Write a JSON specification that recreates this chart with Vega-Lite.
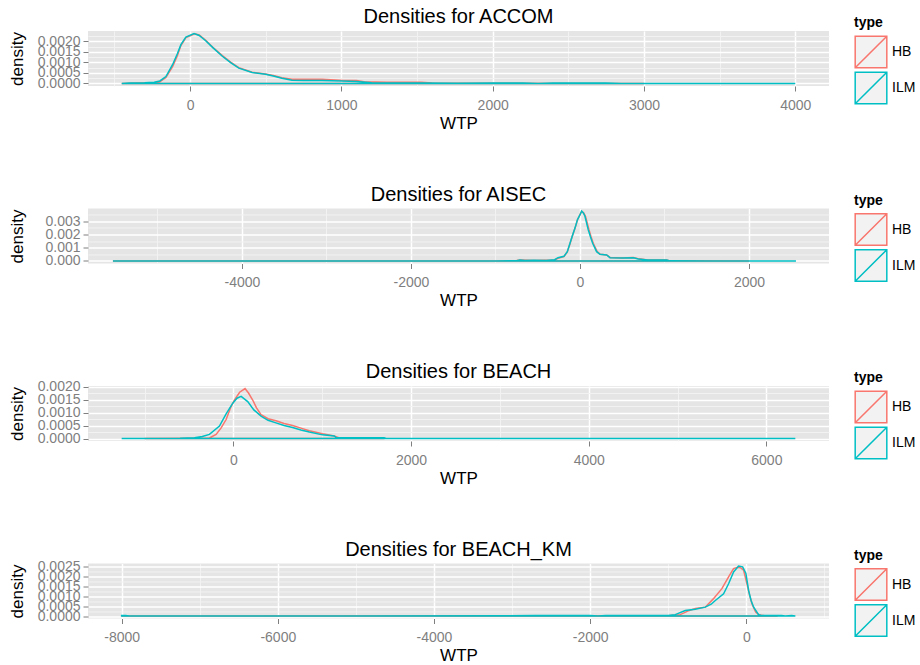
{
  "$schema": "https://vega.github.io/schema/vega-lite/v6.json",
  "background": "white",
  "padding": {"left": 8, "top": 7, "right": 0, "bottom": 0},
  "config": {
    "font": "Liberation Sans",
    "view": {"fill": "#E5E5E5", "stroke": null},
    "title": {"fontSize": 20, "fontWeight": "normal", "color": "black", "anchor": "middle", "offset": -11, "baseline": "alphabetic", "font": "Liberation Sans"},
    "axis": {"domain": false, "tickColor": "#7F7F7F", "tickSize": 5, "tickWidth": 1, "labelColor": "#7F7F7F", "labelFontSize": 14, "labelFont": "Liberation Sans", "titleFont": "Liberation Sans", "titleFontSize": 17, "titleFontWeight": "normal", "titleColor": "black", "labelOverlap": false, "labelFlush": false, "labelBound": false},
    "axisX": {"labelPadding": 7, "titlePadding": 3},
    "axisY": {"labelPadding": 3, "titleX": -66, "titleY": 27.5, "titleBaseline": "alphabetic", "titleAngle": -90, "titleAlign": "center"},
    "legend": {"titleFontSize": 14, "titleFontWeight": "bold", "titleColor": "black", "titleFont": "Liberation Sans", "titlePadding": 5, "labelFontSize": 14, "labelColor": "black", "labelFont": "Liberation Sans", "labelOffset": 4, "symbolType": "M-1,-1L1,-1L1,1L-1,1Z M-1,1L1,-1", "symbolSize": 1000, "symbolStrokeWidth": 1.5, "symbolFillColor": "#F2F2F2", "rowPadding": -3.5}
  },
  "datasets": {
    "dens": [
      {"panel":"ACCOM","type":"HB","WTP":-452,"density":0},
      {"panel":"ACCOM","type":"HB","WTP":-350,"density":0.00002},
      {"panel":"ACCOM","type":"HB","WTP":-237,"density":0.00003},
      {"panel":"ACCOM","type":"HB","WTP":-200,"density":0.00008},
      {"panel":"ACCOM","type":"HB","WTP":-160,"density":0.00028},
      {"panel":"ACCOM","type":"HB","WTP":-116,"density":0.0008},
      {"panel":"ACCOM","type":"HB","WTP":-85,"density":0.0013},
      {"panel":"ACCOM","type":"HB","WTP":-61,"density":0.0018},
      {"panel":"ACCOM","type":"HB","WTP":-28,"density":0.00218},
      {"panel":"ACCOM","type":"HB","WTP":30,"density":0.00236},
      {"panel":"ACCOM","type":"HB","WTP":60,"density":0.0023},
      {"panel":"ACCOM","type":"HB","WTP":103,"density":0.00205},
      {"panel":"ACCOM","type":"HB","WTP":150,"density":0.00172},
      {"panel":"ACCOM","type":"HB","WTP":213,"density":0.00132},
      {"panel":"ACCOM","type":"HB","WTP":270,"density":0.001},
      {"panel":"ACCOM","type":"HB","WTP":322,"density":0.00075},
      {"panel":"ACCOM","type":"HB","WTP":410,"density":0.00053},
      {"panel":"ACCOM","type":"HB","WTP":498,"density":0.00045},
      {"panel":"ACCOM","type":"HB","WTP":550,"density":0.00038},
      {"panel":"ACCOM","type":"HB","WTP":607,"density":0.00027},
      {"panel":"ACCOM","type":"HB","WTP":673,"density":0.0002},
      {"panel":"ACCOM","type":"HB","WTP":870,"density":0.0002},
      {"panel":"ACCOM","type":"HB","WTP":960,"density":0.00016},
      {"panel":"ACCOM","type":"HB","WTP":1013,"density":0.00014},
      {"panel":"ACCOM","type":"HB","WTP":1099,"density":0.00014},
      {"panel":"ACCOM","type":"HB","WTP":1150,"density":0.00008},
      {"panel":"ACCOM","type":"HB","WTP":1300,"density":0.00006},
      {"panel":"ACCOM","type":"HB","WTP":1526,"density":0.00006},
      {"panel":"ACCOM","type":"HB","WTP":1600,"density":0.00002},
      {"panel":"ACCOM","type":"HB","WTP":2000,"density":0.00001},
      {"panel":"ACCOM","type":"HB","WTP":2500,"density":0.000005},
      {"panel":"ACCOM","type":"HB","WTP":3000,"density":0},
      {"panel":"ACCOM","type":"ILM","WTP":-452,"density":0},
      {"panel":"ACCOM","type":"ILM","WTP":-400,"density":0.00002},
      {"panel":"ACCOM","type":"ILM","WTP":-300,"density":0.00003},
      {"panel":"ACCOM","type":"ILM","WTP":-237,"density":0.00006},
      {"panel":"ACCOM","type":"ILM","WTP":-200,"density":0.00012},
      {"panel":"ACCOM","type":"ILM","WTP":-160,"density":0.00033},
      {"panel":"ACCOM","type":"ILM","WTP":-116,"density":0.00089},
      {"panel":"ACCOM","type":"ILM","WTP":-85,"density":0.0014},
      {"panel":"ACCOM","type":"ILM","WTP":-61,"density":0.00184},
      {"panel":"ACCOM","type":"ILM","WTP":-28,"density":0.0022},
      {"panel":"ACCOM","type":"ILM","WTP":26,"density":0.00237},
      {"panel":"ACCOM","type":"ILM","WTP":60,"density":0.00228},
      {"panel":"ACCOM","type":"ILM","WTP":103,"density":0.00203},
      {"panel":"ACCOM","type":"ILM","WTP":150,"density":0.0017},
      {"panel":"ACCOM","type":"ILM","WTP":213,"density":0.00129},
      {"panel":"ACCOM","type":"ILM","WTP":270,"density":0.00098},
      {"panel":"ACCOM","type":"ILM","WTP":322,"density":0.00073},
      {"panel":"ACCOM","type":"ILM","WTP":410,"density":0.00052},
      {"panel":"ACCOM","type":"ILM","WTP":498,"density":0.00044},
      {"panel":"ACCOM","type":"ILM","WTP":550,"density":0.00036},
      {"panel":"ACCOM","type":"ILM","WTP":607,"density":0.00025},
      {"panel":"ACCOM","type":"ILM","WTP":673,"density":0.00015},
      {"panel":"ACCOM","type":"ILM","WTP":750,"density":0.00014},
      {"panel":"ACCOM","type":"ILM","WTP":870,"density":0.00014},
      {"panel":"ACCOM","type":"ILM","WTP":1002,"density":0.00012},
      {"panel":"ACCOM","type":"ILM","WTP":1100,"density":0.0001},
      {"panel":"ACCOM","type":"ILM","WTP":1200,"density":0.00004},
      {"panel":"ACCOM","type":"ILM","WTP":1362,"density":0.00002},
      {"panel":"ACCOM","type":"ILM","WTP":1530,"density":0.00002},
      {"panel":"ACCOM","type":"ILM","WTP":1770,"density":0.00001},
      {"panel":"ACCOM","type":"ILM","WTP":2000,"density":0.00002},
      {"panel":"ACCOM","type":"ILM","WTP":2200,"density":0.00002},
      {"panel":"ACCOM","type":"ILM","WTP":2300,"density":0.000005},
      {"panel":"ACCOM","type":"ILM","WTP":2400,"density":0.00002},
      {"panel":"ACCOM","type":"ILM","WTP":2750,"density":0.00002},
      {"panel":"ACCOM","type":"ILM","WTP":2850,"density":0.000005},
      {"panel":"ACCOM","type":"ILM","WTP":3200,"density":0.000003},
      {"panel":"ACCOM","type":"ILM","WTP":4000,"density":0},

      {"panel":"AISEC","type":"HB","WTP":-5527,"density":0},
      {"panel":"AISEC","type":"HB","WTP":-1000,"density":0.000003},
      {"panel":"AISEC","type":"HB","WTP":-750,"density":0.00003},
      {"panel":"AISEC","type":"HB","WTP":-700,"density":0.00007},
      {"panel":"AISEC","type":"HB","WTP":-550,"density":0.00004},
      {"panel":"AISEC","type":"HB","WTP":-300,"density":0.00008},
      {"panel":"AISEC","type":"HB","WTP":-260,"density":0.0002},
      {"panel":"AISEC","type":"HB","WTP":-190,"density":0.00033},
      {"panel":"AISEC","type":"HB","WTP":-150,"density":0.00068},
      {"panel":"AISEC","type":"HB","WTP":-118,"density":0.0013},
      {"panel":"AISEC","type":"HB","WTP":-90,"density":0.00188},
      {"panel":"AISEC","type":"HB","WTP":-59,"density":0.00245},
      {"panel":"AISEC","type":"HB","WTP":-30,"density":0.00308},
      {"panel":"AISEC","type":"HB","WTP":-8,"density":0.00338},
      {"panel":"AISEC","type":"HB","WTP":20,"density":0.00373},
      {"panel":"AISEC","type":"HB","WTP":45,"density":0.0036},
      {"panel":"AISEC","type":"HB","WTP":65,"density":0.00335},
      {"panel":"AISEC","type":"HB","WTP":105,"density":0.00238},
      {"panel":"AISEC","type":"HB","WTP":132,"density":0.0018},
      {"panel":"AISEC","type":"HB","WTP":157,"density":0.00133},
      {"panel":"AISEC","type":"HB","WTP":204,"density":0.0007},
      {"panel":"AISEC","type":"HB","WTP":240,"density":0.0005},
      {"panel":"AISEC","type":"HB","WTP":316,"density":0.00045},
      {"panel":"AISEC","type":"HB","WTP":355,"density":0.00027},
      {"panel":"AISEC","type":"HB","WTP":500,"density":0.00022},
      {"panel":"AISEC","type":"HB","WTP":631,"density":0.00026},
      {"panel":"AISEC","type":"HB","WTP":700,"density":0.00016},
      {"panel":"AISEC","type":"HB","WTP":800,"density":0.00008},
      {"panel":"AISEC","type":"HB","WTP":1026,"density":0.00008},
      {"panel":"AISEC","type":"HB","WTP":1065,"density":0.00001},
      {"panel":"AISEC","type":"HB","WTP":2000,"density":0},
      {"panel":"AISEC","type":"ILM","WTP":-5527,"density":0},
      {"panel":"AISEC","type":"ILM","WTP":-1000,"density":0.000003},
      {"panel":"AISEC","type":"ILM","WTP":-750,"density":0.00002},
      {"panel":"AISEC","type":"ILM","WTP":-710,"density":0.00008},
      {"panel":"AISEC","type":"ILM","WTP":-650,"density":0.00003},
      {"panel":"AISEC","type":"ILM","WTP":-550,"density":0.00005},
      {"panel":"AISEC","type":"ILM","WTP":-400,"density":0.00004},
      {"panel":"AISEC","type":"ILM","WTP":-300,"density":0.0001},
      {"panel":"AISEC","type":"ILM","WTP":-260,"density":0.00025},
      {"panel":"AISEC","type":"ILM","WTP":-190,"density":0.00035},
      {"panel":"AISEC","type":"ILM","WTP":-150,"density":0.0007},
      {"panel":"AISEC","type":"ILM","WTP":-118,"density":0.00133},
      {"panel":"AISEC","type":"ILM","WTP":-90,"density":0.0019},
      {"panel":"AISEC","type":"ILM","WTP":-59,"density":0.00247},
      {"panel":"AISEC","type":"ILM","WTP":-30,"density":0.0031},
      {"panel":"AISEC","type":"ILM","WTP":-8,"density":0.00336},
      {"panel":"AISEC","type":"ILM","WTP":20,"density":0.00375},
      {"panel":"AISEC","type":"ILM","WTP":40,"density":0.0036},
      {"panel":"AISEC","type":"ILM","WTP":59,"density":0.00336},
      {"panel":"AISEC","type":"ILM","WTP":98,"density":0.00235},
      {"panel":"AISEC","type":"ILM","WTP":125,"density":0.0018},
      {"panel":"AISEC","type":"ILM","WTP":150,"density":0.00133},
      {"panel":"AISEC","type":"ILM","WTP":197,"density":0.0007},
      {"panel":"AISEC","type":"ILM","WTP":237,"density":0.0005},
      {"panel":"AISEC","type":"ILM","WTP":316,"density":0.00045},
      {"panel":"AISEC","type":"ILM","WTP":355,"density":0.00025},
      {"panel":"AISEC","type":"ILM","WTP":500,"density":0.00022},
      {"panel":"AISEC","type":"ILM","WTP":631,"density":0.00025},
      {"panel":"AISEC","type":"ILM","WTP":690,"density":0.00015},
      {"panel":"AISEC","type":"ILM","WTP":800,"density":0.00008},
      {"panel":"AISEC","type":"ILM","WTP":1026,"density":0.00008},
      {"panel":"AISEC","type":"ILM","WTP":1065,"density":0.00001},
      {"panel":"AISEC","type":"ILM","WTP":1500,"density":0.000002},
      {"panel":"AISEC","type":"ILM","WTP":2556,"density":0},

      {"panel":"BEACH","type":"HB","WTP":-1000,"density":0},
      {"panel":"BEACH","type":"HB","WTP":-400,"density":0.00001},
      {"panel":"BEACH","type":"HB","WTP":-270,"density":0.00002},
      {"panel":"BEACH","type":"HB","WTP":-195,"density":0.00016},
      {"panel":"BEACH","type":"HB","WTP":-140,"density":0.0004},
      {"panel":"BEACH","type":"HB","WTP":-82,"density":0.00073},
      {"panel":"BEACH","type":"HB","WTP":-30,"density":0.0012},
      {"panel":"BEACH","type":"HB","WTP":11,"density":0.00148},
      {"panel":"BEACH","type":"HB","WTP":70,"density":0.00178},
      {"panel":"BEACH","type":"HB","WTP":131,"density":0.00192},
      {"panel":"BEACH","type":"HB","WTP":170,"density":0.00175},
      {"panel":"BEACH","type":"HB","WTP":217,"density":0.00148},
      {"panel":"BEACH","type":"HB","WTP":260,"density":0.00118},
      {"panel":"BEACH","type":"HB","WTP":311,"density":0.00092},
      {"panel":"BEACH","type":"HB","WTP":390,"density":0.00076},
      {"panel":"BEACH","type":"HB","WTP":479,"density":0.00068},
      {"panel":"BEACH","type":"HB","WTP":570,"density":0.00058},
      {"panel":"BEACH","type":"HB","WTP":666,"density":0.0005},
      {"panel":"BEACH","type":"HB","WTP":760,"density":0.0004},
      {"panel":"BEACH","type":"HB","WTP":854,"density":0.0003},
      {"panel":"BEACH","type":"HB","WTP":1003,"density":0.00018},
      {"panel":"BEACH","type":"HB","WTP":1135,"density":0.0001},
      {"panel":"BEACH","type":"HB","WTP":1200,"density":0.00001},
      {"panel":"BEACH","type":"HB","WTP":1700,"density":0},
      {"panel":"BEACH","type":"ILM","WTP":-1258,"density":0},
      {"panel":"BEACH","type":"ILM","WTP":-600,"density":0.00001},
      {"panel":"BEACH","type":"ILM","WTP":-438,"density":0.00003},
      {"panel":"BEACH","type":"ILM","WTP":-350,"density":0.00008},
      {"panel":"BEACH","type":"ILM","WTP":-270,"density":0.00016},
      {"panel":"BEACH","type":"ILM","WTP":-157,"density":0.00048},
      {"panel":"BEACH","type":"ILM","WTP":-82,"density":0.00095},
      {"panel":"BEACH","type":"ILM","WTP":-7,"density":0.00136},
      {"panel":"BEACH","type":"ILM","WTP":40,"density":0.00155},
      {"panel":"BEACH","type":"ILM","WTP":87,"density":0.00162},
      {"panel":"BEACH","type":"ILM","WTP":161,"density":0.00142},
      {"panel":"BEACH","type":"ILM","WTP":230,"density":0.0011},
      {"panel":"BEACH","type":"ILM","WTP":311,"density":0.00086},
      {"panel":"BEACH","type":"ILM","WTP":390,"density":0.0007},
      {"panel":"BEACH","type":"ILM","WTP":479,"density":0.0006},
      {"panel":"BEACH","type":"ILM","WTP":570,"density":0.0005},
      {"panel":"BEACH","type":"ILM","WTP":666,"density":0.00042},
      {"panel":"BEACH","type":"ILM","WTP":760,"density":0.00033},
      {"panel":"BEACH","type":"ILM","WTP":854,"density":0.00025},
      {"panel":"BEACH","type":"ILM","WTP":1003,"density":0.00014},
      {"panel":"BEACH","type":"ILM","WTP":1135,"density":0.0001},
      {"panel":"BEACH","type":"ILM","WTP":1160,"density":0.00003},
      {"panel":"BEACH","type":"ILM","WTP":1697,"density":0.00003},
      {"panel":"BEACH","type":"ILM","WTP":1720,"density":0.000005},
      {"panel":"BEACH","type":"ILM","WTP":3000,"density":0.000002},
      {"panel":"BEACH","type":"ILM","WTP":6326,"density":0},

      {"panel":"BEACH_KM","type":"HB","WTP":-8000,"density":0},
      {"panel":"BEACH_KM","type":"HB","WTP":-2700,"density":0.00001},
      {"panel":"BEACH_KM","type":"HB","WTP":-1000,"density":0.00001},
      {"panel":"BEACH_KM","type":"HB","WTP":-846,"density":0.00007},
      {"panel":"BEACH_KM","type":"HB","WTP":-750,"density":0.00025},
      {"panel":"BEACH_KM","type":"HB","WTP":-654,"density":0.00038},
      {"panel":"BEACH_KM","type":"HB","WTP":-526,"density":0.00045},
      {"panel":"BEACH_KM","type":"HB","WTP":-423,"density":0.00087},
      {"panel":"BEACH_KM","type":"HB","WTP":-313,"density":0.00139},
      {"panel":"BEACH_KM","type":"HB","WTP":-227,"density":0.00199},
      {"panel":"BEACH_KM","type":"HB","WTP":-163,"density":0.00241},
      {"panel":"BEACH_KM","type":"HB","WTP":-110,"density":0.00248},
      {"panel":"BEACH_KM","type":"HB","WTP":-70,"density":0.00245},
      {"panel":"BEACH_KM","type":"HB","WTP":-35,"density":0.00233},
      {"panel":"BEACH_KM","type":"HB","WTP":8,"density":0.00164},
      {"panel":"BEACH_KM","type":"HB","WTP":40,"density":0.0011},
      {"panel":"BEACH_KM","type":"HB","WTP":72,"density":0.00062},
      {"panel":"BEACH_KM","type":"HB","WTP":120,"density":0.0002},
      {"panel":"BEACH_KM","type":"HB","WTP":157,"density":0.00007},
      {"panel":"BEACH_KM","type":"HB","WTP":250,"density":0},
      {"panel":"BEACH_KM","type":"HB","WTP":400,"density":0},
      {"panel":"BEACH_KM","type":"ILM","WTP":-8000,"density":0.00002},
      {"panel":"BEACH_KM","type":"ILM","WTP":-7950,"density":0.00002},
      {"panel":"BEACH_KM","type":"ILM","WTP":-7900,"density":0.000003},
      {"panel":"BEACH_KM","type":"ILM","WTP":-5000,"density":0},
      {"panel":"BEACH_KM","type":"ILM","WTP":-2700,"density":0.00002},
      {"panel":"BEACH_KM","type":"ILM","WTP":-2000,"density":0.00002},
      {"panel":"BEACH_KM","type":"ILM","WTP":-1900,"density":0.000005},
      {"panel":"BEACH_KM","type":"ILM","WTP":-1800,"density":0.00002},
      {"panel":"BEACH_KM","type":"ILM","WTP":-1000,"density":0.00002},
      {"panel":"BEACH_KM","type":"ILM","WTP":-910,"density":0.00007},
      {"panel":"BEACH_KM","type":"ILM","WTP":-782,"density":0.00028},
      {"panel":"BEACH_KM","type":"ILM","WTP":-654,"density":0.00034},
      {"panel":"BEACH_KM","type":"ILM","WTP":-526,"density":0.00045},
      {"panel":"BEACH_KM","type":"ILM","WTP":-450,"density":0.0006},
      {"panel":"BEACH_KM","type":"ILM","WTP":-397,"density":0.00079},
      {"panel":"BEACH_KM","type":"ILM","WTP":-291,"density":0.00113},
      {"panel":"BEACH_KM","type":"ILM","WTP":-227,"density":0.00164},
      {"panel":"BEACH_KM","type":"ILM","WTP":-163,"density":0.00224},
      {"panel":"BEACH_KM","type":"ILM","WTP":-99,"density":0.00254},
      {"panel":"BEACH_KM","type":"ILM","WTP":-47,"density":0.0025},
      {"panel":"BEACH_KM","type":"ILM","WTP":-5,"density":0.00216},
      {"panel":"BEACH_KM","type":"ILM","WTP":29,"density":0.0013},
      {"panel":"BEACH_KM","type":"ILM","WTP":60,"density":0.0008},
      {"panel":"BEACH_KM","type":"ILM","WTP":94,"density":0.00045},
      {"panel":"BEACH_KM","type":"ILM","WTP":157,"density":0.00007},
      {"panel":"BEACH_KM","type":"ILM","WTP":200,"density":0.00002},
      {"panel":"BEACH_KM","type":"ILM","WTP":450,"density":0.00002},
      {"panel":"BEACH_KM","type":"ILM","WTP":500,"density":0.000005},
      {"panel":"BEACH_KM","type":"ILM","WTP":580,"density":0.00003},
      {"panel":"BEACH_KM","type":"ILM","WTP":628,"density":0}
    ]
  },
  "spacing": 53.5,
  "resolve": {"scale": {"x": "independent", "y": "independent", "color": "independent"}, "legend": {"color": "independent"}, "axis": {"x": "independent", "y": "independent"}},
  "vconcat": [
    {
      "width": 741, "height": 55,
      "title": "Densities for ACCOM",
      "data": {"name": "dens"},
      "transform": [{"filter": "datum.panel === 'ACCOM'"}],
      "mark": {"type": "area", "filled": false, "strokeWidth": 1.5},
      "encoding": {
        "x": {"field": "WTP", "type": "quantitative", "scale": {"domain": [-675, 4223], "nice": false, "zero": false},
          "axis": {"title": "WTP", "values": [-500,0,500,1000,1500,2000,2500,3000,3500,4000],
            "labelExpr": "datum.value % 1000 === 0 ? '' + datum.value : ''",
            "gridColor": {"condition": {"test": "datum.value % 1000 === 0", "value": "white"}, "value": "#F2F2F2"},
            "gridWidth": {"condition": {"test": "datum.value % 1000 === 0", "value": 1.5}, "value": 1},
            "tickOpacity": {"condition": {"test": "datum.value % 1000 === 0", "value": 1}, "value": 0}}},
        "y": {"field": "density", "type": "quantitative", "stack": null, "scale": {"domain": [-0.000119, 0.00249], "nice": false, "zero": false},
          "axis": {"title": "density", "values": [0,0.00025,0.0005,0.00075,0.001,0.00125,0.0015,0.00175,0.002,0.00225],
            "labelExpr": "abs(datum.value*2000 - round(datum.value*2000)) < 0.01 ? format(datum.value, '.4f') : ''",
            "gridColor": {"condition": {"test": "abs(datum.value*2000 - round(datum.value*2000)) < 0.01", "value": "white"}, "value": "#F2F2F2"},
            "gridWidth": {"condition": {"test": "abs(datum.value*2000 - round(datum.value*2000)) < 0.01", "value": 1.5}, "value": 1},
            "tickOpacity": {"condition": {"test": "abs(datum.value*2000 - round(datum.value*2000)) < 0.01", "value": 1}, "value": 0}}},
        "color": {"field": "type", "type": "nominal", "scale": {"domain": ["HB", "ILM"], "range": ["#F8766D", "#00BFC4"]},
          "legend": {"title": "type", "orient": "none", "legendX": 766, "legendY": -15}}
      }
    },
    {
      "width": 741, "height": 55,
      "title": "Densities for AISEC",
      "data": {"name": "dens"},
      "transform": [{"filter": "datum.panel === 'AISEC'"}],
      "mark": {"type": "area", "filled": false, "strokeWidth": 1.5},
      "encoding": {
        "x": {"field": "WTP", "type": "quantitative", "scale": {"domain": [-5822, 2947], "nice": false, "zero": false},
          "axis": {"title": "WTP", "values": [-5000,-4000,-3000,-2000,-1000,0,1000,2000],
            "labelExpr": "datum.value % 2000 === 0 ? '' + datum.value : ''",
            "gridColor": {"condition": {"test": "datum.value % 2000 === 0", "value": "white"}, "value": "#F2F2F2"},
            "gridWidth": {"condition": {"test": "datum.value % 2000 === 0", "value": 1.5}, "value": 1},
            "tickOpacity": {"condition": {"test": "datum.value % 2000 === 0", "value": 1}, "value": 0}}},
        "y": {"field": "density", "type": "quantitative", "stack": null, "scale": {"domain": [-0.000188, 0.00394], "nice": false, "zero": false},
          "axis": {"title": "density", "values": [0,0.0005,0.001,0.0015,0.002,0.0025,0.003,0.0035],
            "labelExpr": "abs(datum.value*1000 - round(datum.value*1000)) < 0.01 ? format(datum.value, '.3f') : ''",
            "gridColor": {"condition": {"test": "abs(datum.value*1000 - round(datum.value*1000)) < 0.01", "value": "white"}, "value": "#F2F2F2"},
            "gridWidth": {"condition": {"test": "abs(datum.value*1000 - round(datum.value*1000)) < 0.01", "value": 1.5}, "value": 1},
            "tickOpacity": {"condition": {"test": "abs(datum.value*1000 - round(datum.value*1000)) < 0.01", "value": 1}, "value": 0}}},
        "color": {"field": "type", "type": "nominal", "scale": {"domain": ["HB", "ILM"], "range": ["#F8766D", "#00BFC4"]},
          "legend": {"title": "type", "orient": "none", "legendX": 766, "legendY": -15}}
      }
    },
    {
      "width": 741, "height": 55,
      "title": "Densities for BEACH",
      "data": {"name": "dens"},
      "transform": [{"filter": "datum.panel === 'BEACH'"}],
      "mark": {"type": "area", "filled": false, "strokeWidth": 1.5},
      "encoding": {
        "x": {"field": "WTP", "type": "quantitative", "scale": {"domain": [-1637, 6705], "nice": false, "zero": false},
          "axis": {"title": "WTP", "values": [-1000,0,1000,2000,3000,4000,5000,6000],
            "labelExpr": "datum.value % 2000 === 0 ? '' + datum.value : ''",
            "gridColor": {"condition": {"test": "datum.value % 2000 === 0", "value": "white"}, "value": "#F2F2F2"},
            "gridWidth": {"condition": {"test": "datum.value % 2000 === 0", "value": 1.5}, "value": 1},
            "tickOpacity": {"condition": {"test": "datum.value % 2000 === 0", "value": 1}, "value": 0}}},
        "y": {"field": "density", "type": "quantitative", "stack": null, "scale": {"domain": [-0.000096, 0.00202], "nice": false, "zero": false},
          "axis": {"title": "density", "values": [0,0.00025,0.0005,0.00075,0.001,0.00125,0.0015,0.00175,0.002],
            "labelExpr": "abs(datum.value*2000 - round(datum.value*2000)) < 0.01 ? format(datum.value, '.4f') : ''",
            "gridColor": {"condition": {"test": "abs(datum.value*2000 - round(datum.value*2000)) < 0.01", "value": "white"}, "value": "#F2F2F2"},
            "gridWidth": {"condition": {"test": "abs(datum.value*2000 - round(datum.value*2000)) < 0.01", "value": 1.5}, "value": 1},
            "tickOpacity": {"condition": {"test": "abs(datum.value*2000 - round(datum.value*2000)) < 0.01", "value": 1}, "value": 0}}},
        "color": {"field": "type", "type": "nominal", "scale": {"domain": ["HB", "ILM"], "range": ["#F8766D", "#00BFC4"]},
          "legend": {"title": "type", "orient": "none", "legendX": 766, "legendY": -15}}
      }
    },
    {
      "width": 741, "height": 55,
      "title": "Densities for BEACH_KM",
      "data": {"name": "dens"},
      "transform": [{"filter": "datum.panel === 'BEACH_KM'"}],
      "mark": {"type": "area", "filled": false, "strokeWidth": 1.5},
      "encoding": {
        "x": {"field": "WTP", "type": "quantitative", "scale": {"domain": [-8431, 1059], "nice": false, "zero": false},
          "axis": {"title": "WTP", "values": [-8000,-7000,-6000,-5000,-4000,-3000,-2000,-1000,0,1000],
            "labelExpr": "datum.value % 2000 === 0 ? '' + datum.value : ''",
            "gridColor": {"condition": {"test": "datum.value % 2000 === 0", "value": "white"}, "value": "#F2F2F2"},
            "gridWidth": {"condition": {"test": "datum.value % 2000 === 0", "value": 1.5}, "value": 1},
            "tickOpacity": {"condition": {"test": "datum.value % 2000 === 0", "value": 1}, "value": 0}}},
        "y": {"field": "density", "type": "quantitative", "stack": null, "scale": {"domain": [-0.000127, 0.00267], "nice": false, "zero": false},
          "axis": {"title": "density", "values": [0,0.00025,0.0005,0.00075,0.001,0.00125,0.0015,0.00175,0.002,0.00225,0.0025],
            "labelExpr": "abs(datum.value*2000 - round(datum.value*2000)) < 0.01 ? format(datum.value, '.4f') : ''",
            "gridColor": {"condition": {"test": "abs(datum.value*2000 - round(datum.value*2000)) < 0.01", "value": "white"}, "value": "#F2F2F2"},
            "gridWidth": {"condition": {"test": "abs(datum.value*2000 - round(datum.value*2000)) < 0.01", "value": 1.5}, "value": 1},
            "tickOpacity": {"condition": {"test": "abs(datum.value*2000 - round(datum.value*2000)) < 0.01", "value": 1}, "value": 0}}},
        "color": {"field": "type", "type": "nominal", "scale": {"domain": ["HB", "ILM"], "range": ["#F8766D", "#00BFC4"]},
          "legend": {"title": "type", "orient": "none", "legendX": 766, "legendY": -15}}
      }
    }
  ]
}
